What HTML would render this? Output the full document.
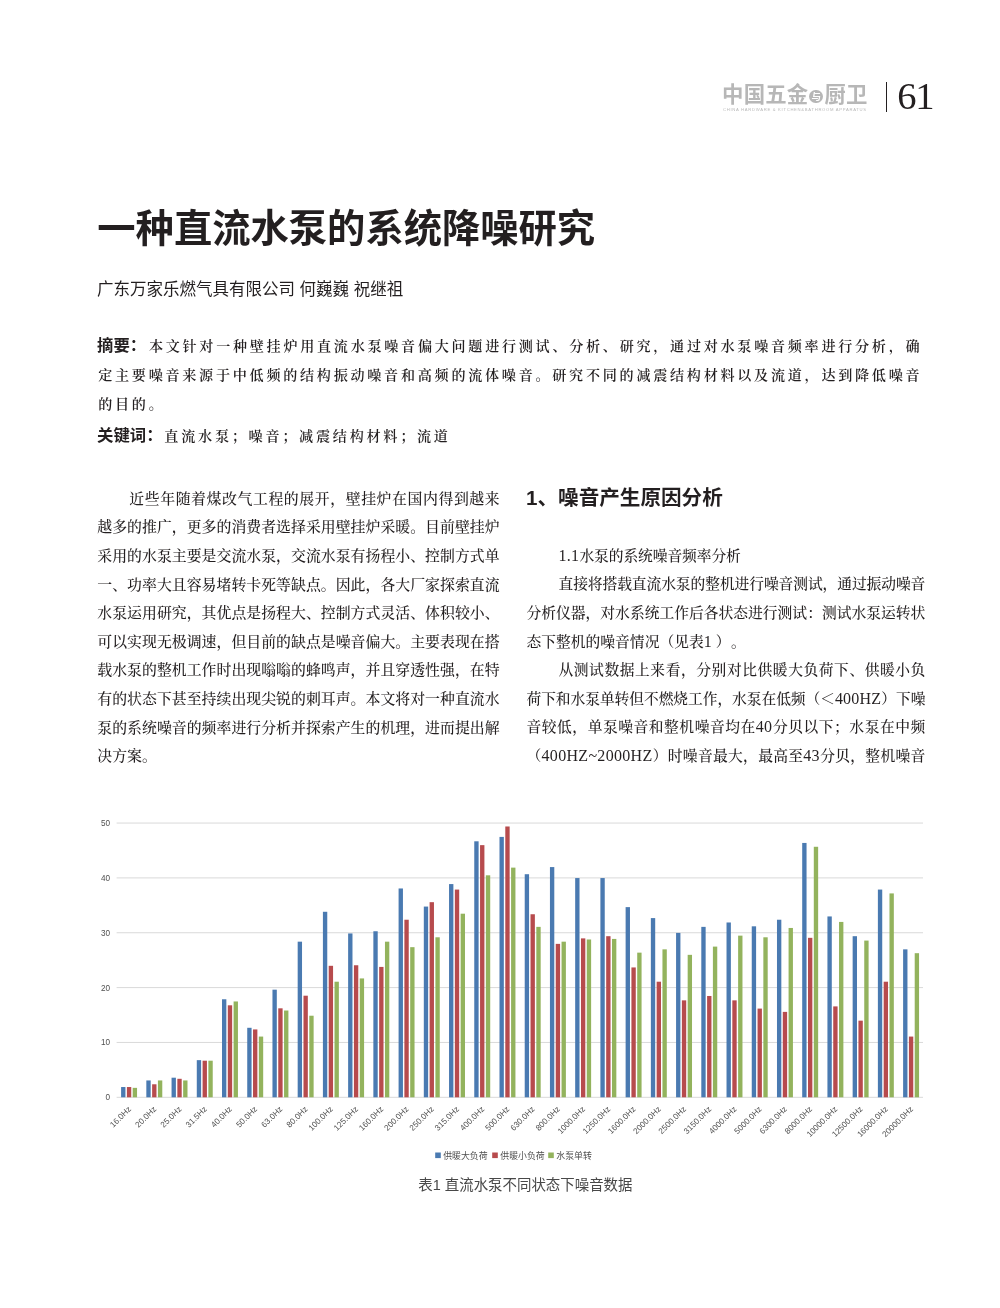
<!DOCTYPE html>
<html lang="zh-CN">
<head>
<meta charset="utf-8">
<title>一种直流水泵的系统降噪研究</title>
<style>
html,body{margin:0;padding:0;background:#fff;}
body{width:1000px;height:1308px;position:relative;overflow:hidden;color:#231f20;
 font-family:"Liberation Serif","Noto Serif CJK SC",serif;}
.abs{position:absolute;}
/* header */
.logo{left:722.0px;top:78px;width:146px;height:34px;color:#b7b7b7;}
.logo .cn{position:absolute;left:0.1px;top:2.2px;font-family:"Liberation Sans","Noto Sans CJK SC",sans-serif;font-weight:700;font-size:21.4px;line-height:30px;letter-spacing:0.15px;white-space:nowrap;}
.logo .yu{display:inline-block;width:13.8px;height:13.8px;border-radius:50%;background:#b7b7b7;color:#fff;font-size:9.5px;line-height:13.8px;text-align:center;vertical-align:2.6px;letter-spacing:0;margin:0 1.4px 0 1.1px;}
.logo .en{position:absolute;left:1.0px;top:28.7px;font-family:"Liberation Sans",sans-serif;font-size:4.2px;line-height:5px;letter-spacing:0.69px;white-space:nowrap;color:#b9b9b9;}
.bar{left:885.7px;top:82px;width:1.3px;height:30px;background:#231f20;}
.pg{left:897.2px;top:73.9px;font-family:"Liberation Serif",serif;font-size:38.6px;line-height:44px;color:#231f20;letter-spacing:-1.3px;}
/* title */
.title{left:97.3px;top:201px;font-family:"Liberation Sans","Noto Sans CJK SC",sans-serif;font-weight:700;font-size:38.3px;line-height:56px;white-space:nowrap;color:#231f20;}
.author{left:97px;top:276px;font-family:"Liberation Sans","Noto Sans CJK SC",sans-serif;font-weight:400;font-size:16.5px;line-height:26px;white-space:nowrap;color:#231f20;}
/* abstract */
.abstract{left:97px;top:331px;width:822.6px;font-size:14.1px;line-height:29.6px;font-weight:600;}
.abstract b{display:inline-block;font-family:"Liberation Sans","Noto Sans CJK SC",sans-serif;font-weight:700;font-size:16.4px;letter-spacing:0;}
.abstract .last{letter-spacing:2.75px;}
.abstract .ln{height:29.6px;}
.abstract .k{padding-left:1.2px;}
.abstract .kw{position:relative;top:1.1px;}
.abstract .kw b{margin-right:1.8px;}
.ln{white-space:nowrap;text-align:justify;text-align-last:justify;}
.col .ln{height:28.6px;}
.lt{font-size:16px;letter-spacing:.3px;}
.tight{letter-spacing:-0.1px;}
.tight .lt{letter-spacing:.2px;}
.ln.last{text-align-last:left;}
.col{width:401px;font-size:14.85px;line-height:28.6px;font-weight:500;}
.col .ind{padding-left:32px;letter-spacing:-0.1px;}
.c1{left:97.3px;top:484.9px;width:402.3px;font-size:14.9px;}
.c2{left:526.5px;top:541.9px;width:398.8px;font-size:14.77px;}
.h2{left:526px;top:483px;font-family:"Liberation Sans","Noto Sans CJK SC",sans-serif;font-weight:700;font-size:20.6px;line-height:30px;white-space:nowrap;}
.chart{position:absolute;left:0;top:800px;}
.chart text{font-family:"Liberation Sans","Noto Sans CJK SC",sans-serif;fill:#505050;}
.chart .ax{font-size:8.2px;}
.chart .xl{font-size:8.2px;}
.chart .lg{font-size:8.9px;}
.cap{left:325.4px;top:1174.3px;width:400px;text-align:center;font-family:"Liberation Sans","Noto Sans CJK SC",sans-serif;font-size:14.45px;line-height:22px;color:#484848;white-space:nowrap;}
</style>
</head>
<body>
<div class="abs logo"><div class="cn">中国五金<span class="yu">与</span>厨卫</div><div class="en">CHINA HARDWARE &amp; KITCHEN&amp;BATHROOM APPARATUS</div></div>
<div class="abs bar"></div>
<div class="abs pg">61</div>
<h1 class="abs title" style="margin:0">一种直流水泵的系统降噪研究</h1>
<div class="abs author">广东万家乐燃气具有限公司 何巍巍 祝继祖</div>
<div class="abs abstract">
<div class="ln "><b>摘要：</b>本文针对一种壁挂炉用直流水泵噪音偏大问题进行测试、分析、研究，通过对水泵噪音频率进行分析，确</div>
<div class="ln k">定主要噪音来源于中低频的结构振动噪音和高频的流体噪音。研究不同的减震结构材料以及流道，达到降低噪音</div>
<div class="ln last k">的目的。</div>
<div class="ln last kw"><b>关键词：</b>直流水泵；噪音；减震结构材料；流道</div>
</div>
<div class="abs col c1">
<div class="ln ind">近些年随着煤改气工程的展开，壁挂炉在国内得到越来</div>
<div class="ln ">越多的推广，更多的消费者选择采用壁挂炉采暖。目前壁挂炉</div>
<div class="ln ">采用的水泵主要是交流水泵，交流水泵有扬程小、控制方式单</div>
<div class="ln ">一、功率大且容易堵转卡死等缺点。因此，各大厂家探索直流</div>
<div class="ln ">水泵运用研究，其优点是扬程大、控制方式灵活、体积较小、</div>
<div class="ln ">可以实现无极调速，但目前的缺点是噪音偏大。主要表现在搭</div>
<div class="ln ">载水泵的整机工作时出现嗡嗡的蜂鸣声，并且穿透性强，在特</div>
<div class="ln ">有的状态下甚至持续出现尖锐的刺耳声。本文将对一种直流水</div>
<div class="ln ">泵的系统噪音的频率进行分析并探索产生的机理，进而提出解</div>
<div class="ln last">决方案。</div>
</div>
<h2 class="abs h2" style="margin:0">1、噪音产生原因分析</h2>
<div class="abs col c2">
<div class="ln ind last"><span class="lt">1.1</span>水泵的系统噪音频率分析</div>
<div class="ln ind">直接将搭载直流水泵的整机进行噪音测试，通过振动噪音</div>
<div class="ln ">分析仪器，对水系统工作后各状态进行测试：测试水泵运转状</div>
<div class="ln last">态下整机的噪音情况（见表<span class="lt">1</span> <span style="letter-spacing:8px">）</span>。</div>
<div class="ln ind">从测试数据上来看，分别对比供暖大负荷下、供暖小负</div>
<div class="ln tight">荷下和水泵单转但不燃烧工作，水泵在低频（＜<span class="lt">400HZ</span>）下噪</div>
<div class="ln ">音较低，单泵噪音和整机噪音均在<span class="lt">40</span>分贝以下；水泵在中频</div>
<div class="ln ">（<span class="lt">400HZ~2000HZ</span>）时噪音最大，最高至<span class="lt">43</span>分贝，整机噪音</div>
</div>
<svg class="chart" width="1000" height="420" viewBox="0 800 1000 420">
<line x1="116.6" x2="923" y1="1097.30" y2="1097.30" stroke="#d9d9d9" stroke-width="1"/>
<text x="110" y="1100.30" text-anchor="end" class="ax">0</text>
<line x1="116.6" x2="923" y1="1042.45" y2="1042.45" stroke="#d9d9d9" stroke-width="1"/>
<text x="110" y="1045.45" text-anchor="end" class="ax">10</text>
<line x1="116.6" x2="923" y1="987.60" y2="987.60" stroke="#d9d9d9" stroke-width="1"/>
<text x="110" y="990.60" text-anchor="end" class="ax">20</text>
<line x1="116.6" x2="923" y1="932.75" y2="932.75" stroke="#d9d9d9" stroke-width="1"/>
<text x="110" y="935.75" text-anchor="end" class="ax">30</text>
<line x1="116.6" x2="923" y1="877.90" y2="877.90" stroke="#d9d9d9" stroke-width="1"/>
<text x="110" y="880.90" text-anchor="end" class="ax">40</text>
<line x1="116.6" x2="923" y1="823.05" y2="823.05" stroke="#d9d9d9" stroke-width="1"/>
<text x="110" y="826.05" text-anchor="end" class="ax">50</text>
<rect x="121.10" y="1087.03" width="4.35" height="10.27" fill="#4a7ab1"/>
<rect x="126.90" y="1087.03" width="4.35" height="10.27" fill="#b74b4d"/>
<rect x="132.70" y="1087.85" width="4.35" height="9.45" fill="#93b35d"/>
<text transform="translate(131.61,1109.60) rotate(-45)" text-anchor="end" class="xl">16.0Hz</text>
<rect x="146.33" y="1080.44" width="4.35" height="16.86" fill="#4a7ab1"/>
<rect x="152.13" y="1084.28" width="4.35" height="13.02" fill="#b74b4d"/>
<rect x="157.93" y="1080.44" width="4.35" height="16.86" fill="#93b35d"/>
<text transform="translate(156.84,1109.60) rotate(-45)" text-anchor="end" class="xl">20.0Hz</text>
<rect x="171.55" y="1077.70" width="4.35" height="19.60" fill="#4a7ab1"/>
<rect x="177.35" y="1078.80" width="4.35" height="18.50" fill="#b74b4d"/>
<rect x="183.15" y="1080.44" width="4.35" height="16.86" fill="#93b35d"/>
<text transform="translate(182.06,1109.60) rotate(-45)" text-anchor="end" class="xl">25.0Hz</text>
<rect x="196.78" y="1060.15" width="4.35" height="37.15" fill="#4a7ab1"/>
<rect x="202.58" y="1060.70" width="4.35" height="36.60" fill="#b74b4d"/>
<rect x="208.38" y="1060.70" width="4.35" height="36.60" fill="#93b35d"/>
<text transform="translate(207.29,1109.60) rotate(-45)" text-anchor="end" class="xl">31.5Hz</text>
<rect x="222.00" y="999.27" width="4.35" height="98.03" fill="#4a7ab1"/>
<rect x="227.80" y="1005.30" width="4.35" height="92.00" fill="#b74b4d"/>
<rect x="233.60" y="1001.46" width="4.35" height="95.84" fill="#93b35d"/>
<text transform="translate(232.52,1109.60) rotate(-45)" text-anchor="end" class="xl">40.0Hz</text>
<rect x="247.23" y="1027.79" width="4.35" height="69.51" fill="#4a7ab1"/>
<rect x="253.03" y="1029.43" width="4.35" height="67.87" fill="#b74b4d"/>
<rect x="258.83" y="1036.57" width="4.35" height="60.73" fill="#93b35d"/>
<text transform="translate(257.74,1109.60) rotate(-45)" text-anchor="end" class="xl">50.0Hz</text>
<rect x="272.46" y="989.67" width="4.35" height="107.63" fill="#4a7ab1"/>
<rect x="278.26" y="1008.32" width="4.35" height="88.98" fill="#b74b4d"/>
<rect x="284.06" y="1010.51" width="4.35" height="86.79" fill="#93b35d"/>
<text transform="translate(282.97,1109.60) rotate(-45)" text-anchor="end" class="xl">63.0Hz</text>
<rect x="297.68" y="941.67" width="4.35" height="155.63" fill="#4a7ab1"/>
<rect x="303.48" y="995.70" width="4.35" height="101.60" fill="#b74b4d"/>
<rect x="309.28" y="1015.72" width="4.35" height="81.58" fill="#93b35d"/>
<text transform="translate(308.19,1109.60) rotate(-45)" text-anchor="end" class="xl">80.0Hz</text>
<rect x="322.91" y="911.78" width="4.35" height="185.52" fill="#4a7ab1"/>
<rect x="328.71" y="965.81" width="4.35" height="131.49" fill="#b74b4d"/>
<rect x="334.51" y="981.71" width="4.35" height="115.59" fill="#93b35d"/>
<text transform="translate(333.42,1109.60) rotate(-45)" text-anchor="end" class="xl">100.0Hz</text>
<rect x="348.13" y="933.45" width="4.35" height="163.85" fill="#4a7ab1"/>
<rect x="353.93" y="965.26" width="4.35" height="132.04" fill="#b74b4d"/>
<rect x="359.73" y="978.42" width="4.35" height="118.88" fill="#93b35d"/>
<text transform="translate(358.65,1109.60) rotate(-45)" text-anchor="end" class="xl">125.0Hz</text>
<rect x="373.36" y="931.25" width="4.35" height="166.05" fill="#4a7ab1"/>
<rect x="379.16" y="966.91" width="4.35" height="130.39" fill="#b74b4d"/>
<rect x="384.96" y="941.67" width="4.35" height="155.63" fill="#93b35d"/>
<text transform="translate(383.87,1109.60) rotate(-45)" text-anchor="end" class="xl">160.0Hz</text>
<rect x="398.59" y="888.47" width="4.35" height="208.83" fill="#4a7ab1"/>
<rect x="404.39" y="919.73" width="4.35" height="177.57" fill="#b74b4d"/>
<rect x="410.19" y="947.16" width="4.35" height="150.14" fill="#93b35d"/>
<text transform="translate(409.10,1109.60) rotate(-45)" text-anchor="end" class="xl">200.0Hz</text>
<rect x="423.81" y="906.57" width="4.35" height="190.73" fill="#4a7ab1"/>
<rect x="429.61" y="902.18" width="4.35" height="195.12" fill="#b74b4d"/>
<rect x="435.41" y="937.29" width="4.35" height="160.01" fill="#93b35d"/>
<text transform="translate(434.32,1109.60) rotate(-45)" text-anchor="end" class="xl">250.0Hz</text>
<rect x="449.04" y="884.08" width="4.35" height="213.22" fill="#4a7ab1"/>
<rect x="454.84" y="889.57" width="4.35" height="207.73" fill="#b74b4d"/>
<rect x="460.64" y="913.70" width="4.35" height="183.60" fill="#93b35d"/>
<text transform="translate(459.55,1109.60) rotate(-45)" text-anchor="end" class="xl">315.0Hz</text>
<rect x="474.26" y="841.30" width="4.35" height="256.00" fill="#4a7ab1"/>
<rect x="480.06" y="845.14" width="4.35" height="252.16" fill="#b74b4d"/>
<rect x="485.86" y="875.31" width="4.35" height="221.99" fill="#93b35d"/>
<text transform="translate(484.78,1109.60) rotate(-45)" text-anchor="end" class="xl">400.0Hz</text>
<rect x="499.49" y="836.91" width="4.35" height="260.39" fill="#4a7ab1"/>
<rect x="505.29" y="826.49" width="4.35" height="270.81" fill="#b74b4d"/>
<rect x="511.09" y="867.63" width="4.35" height="229.67" fill="#93b35d"/>
<text transform="translate(510.00,1109.60) rotate(-45)" text-anchor="end" class="xl">500.0Hz</text>
<rect x="524.72" y="874.21" width="4.35" height="223.09" fill="#4a7ab1"/>
<rect x="530.52" y="914.25" width="4.35" height="183.05" fill="#b74b4d"/>
<rect x="536.32" y="926.87" width="4.35" height="170.44" fill="#93b35d"/>
<text transform="translate(535.23,1109.60) rotate(-45)" text-anchor="end" class="xl">630.0Hz</text>
<rect x="549.94" y="867.08" width="4.35" height="230.22" fill="#4a7ab1"/>
<rect x="555.74" y="943.87" width="4.35" height="153.43" fill="#b74b4d"/>
<rect x="561.54" y="941.67" width="4.35" height="155.63" fill="#93b35d"/>
<text transform="translate(560.46,1109.60) rotate(-45)" text-anchor="end" class="xl">800.0Hz</text>
<rect x="575.17" y="878.05" width="4.35" height="219.25" fill="#4a7ab1"/>
<rect x="580.97" y="938.38" width="4.35" height="158.92" fill="#b74b4d"/>
<rect x="586.77" y="939.48" width="4.35" height="157.82" fill="#93b35d"/>
<text transform="translate(585.68,1109.60) rotate(-45)" text-anchor="end" class="xl">1000.0Hz</text>
<rect x="600.39" y="878.05" width="4.35" height="219.25" fill="#4a7ab1"/>
<rect x="606.19" y="936.19" width="4.35" height="161.11" fill="#b74b4d"/>
<rect x="611.99" y="938.93" width="4.35" height="158.37" fill="#93b35d"/>
<text transform="translate(610.91,1109.60) rotate(-45)" text-anchor="end" class="xl">1250.0Hz</text>
<rect x="625.62" y="907.12" width="4.35" height="190.18" fill="#4a7ab1"/>
<rect x="631.42" y="967.45" width="4.35" height="129.85" fill="#b74b4d"/>
<rect x="637.22" y="952.64" width="4.35" height="144.66" fill="#93b35d"/>
<text transform="translate(636.13,1109.60) rotate(-45)" text-anchor="end" class="xl">1600.0Hz</text>
<rect x="650.85" y="918.09" width="4.35" height="179.21" fill="#4a7ab1"/>
<rect x="656.65" y="981.71" width="4.35" height="115.59" fill="#b74b4d"/>
<rect x="662.45" y="949.35" width="4.35" height="147.95" fill="#93b35d"/>
<text transform="translate(661.36,1109.60) rotate(-45)" text-anchor="end" class="xl">2000.0Hz</text>
<rect x="676.07" y="932.90" width="4.35" height="164.40" fill="#4a7ab1"/>
<rect x="681.87" y="1000.36" width="4.35" height="96.94" fill="#b74b4d"/>
<rect x="687.67" y="954.84" width="4.35" height="142.46" fill="#93b35d"/>
<text transform="translate(686.58,1109.60) rotate(-45)" text-anchor="end" class="xl">2500.0Hz</text>
<rect x="701.30" y="926.87" width="4.35" height="170.44" fill="#4a7ab1"/>
<rect x="707.10" y="995.98" width="4.35" height="101.32" fill="#b74b4d"/>
<rect x="712.90" y="946.61" width="4.35" height="150.69" fill="#93b35d"/>
<text transform="translate(711.81,1109.60) rotate(-45)" text-anchor="end" class="xl">3150.0Hz</text>
<rect x="726.52" y="922.48" width="4.35" height="174.82" fill="#4a7ab1"/>
<rect x="732.32" y="1000.36" width="4.35" height="96.94" fill="#b74b4d"/>
<rect x="738.12" y="935.64" width="4.35" height="161.66" fill="#93b35d"/>
<text transform="translate(737.04,1109.60) rotate(-45)" text-anchor="end" class="xl">4000.0Hz</text>
<rect x="751.75" y="926.32" width="4.35" height="170.98" fill="#4a7ab1"/>
<rect x="757.55" y="1008.59" width="4.35" height="88.71" fill="#b74b4d"/>
<rect x="763.35" y="937.29" width="4.35" height="160.01" fill="#93b35d"/>
<text transform="translate(762.26,1109.60) rotate(-45)" text-anchor="end" class="xl">5000.0Hz</text>
<rect x="776.98" y="919.73" width="4.35" height="177.57" fill="#4a7ab1"/>
<rect x="782.78" y="1011.88" width="4.35" height="85.42" fill="#b74b4d"/>
<rect x="788.58" y="927.96" width="4.35" height="169.34" fill="#93b35d"/>
<text transform="translate(787.49,1109.60) rotate(-45)" text-anchor="end" class="xl">6300.0Hz</text>
<rect x="802.20" y="842.94" width="4.35" height="254.36" fill="#4a7ab1"/>
<rect x="808.00" y="937.83" width="4.35" height="159.47" fill="#b74b4d"/>
<rect x="813.80" y="846.78" width="4.35" height="250.52" fill="#93b35d"/>
<text transform="translate(812.72,1109.60) rotate(-45)" text-anchor="end" class="xl">8000.0Hz</text>
<rect x="827.43" y="916.44" width="4.35" height="180.86" fill="#4a7ab1"/>
<rect x="833.23" y="1006.40" width="4.35" height="90.90" fill="#b74b4d"/>
<rect x="839.03" y="921.93" width="4.35" height="175.37" fill="#93b35d"/>
<text transform="translate(837.94,1109.60) rotate(-45)" text-anchor="end" class="xl">10000.0Hz</text>
<rect x="852.65" y="936.19" width="4.35" height="161.11" fill="#4a7ab1"/>
<rect x="858.45" y="1020.66" width="4.35" height="76.64" fill="#b74b4d"/>
<rect x="864.25" y="940.58" width="4.35" height="156.72" fill="#93b35d"/>
<text transform="translate(863.17,1109.60) rotate(-45)" text-anchor="end" class="xl">12500.0Hz</text>
<rect x="877.88" y="889.57" width="4.35" height="207.73" fill="#4a7ab1"/>
<rect x="883.68" y="981.71" width="4.35" height="115.59" fill="#b74b4d"/>
<rect x="889.48" y="893.41" width="4.35" height="203.89" fill="#93b35d"/>
<text transform="translate(888.39,1109.60) rotate(-45)" text-anchor="end" class="xl">16000.0Hz</text>
<rect x="903.11" y="949.35" width="4.35" height="147.95" fill="#4a7ab1"/>
<rect x="908.91" y="1036.57" width="4.35" height="60.73" fill="#b74b4d"/>
<rect x="914.71" y="953.19" width="4.35" height="144.11" fill="#93b35d"/>
<text transform="translate(913.62,1109.60) rotate(-45)" text-anchor="end" class="xl">20000.0Hz</text>
<rect x="435.2" y="1152.5" width="5.6" height="5.6" fill="#4a7ab1"/><text x="443.2" y="1158.7" class="lg">供暖大负荷</text>
<rect x="492.2" y="1152.5" width="5.6" height="5.6" fill="#b74b4d"/><text x="500.3" y="1158.7" class="lg">供暖小负荷</text>
<rect x="548.2" y="1152.5" width="5.6" height="5.6" fill="#93b35d"/><text x="556.3" y="1158.7" class="lg">水泵单转</text>
</svg>
<div class="abs cap">表1 直流水泵不同状态下噪音数据</div>
</body>
</html>
